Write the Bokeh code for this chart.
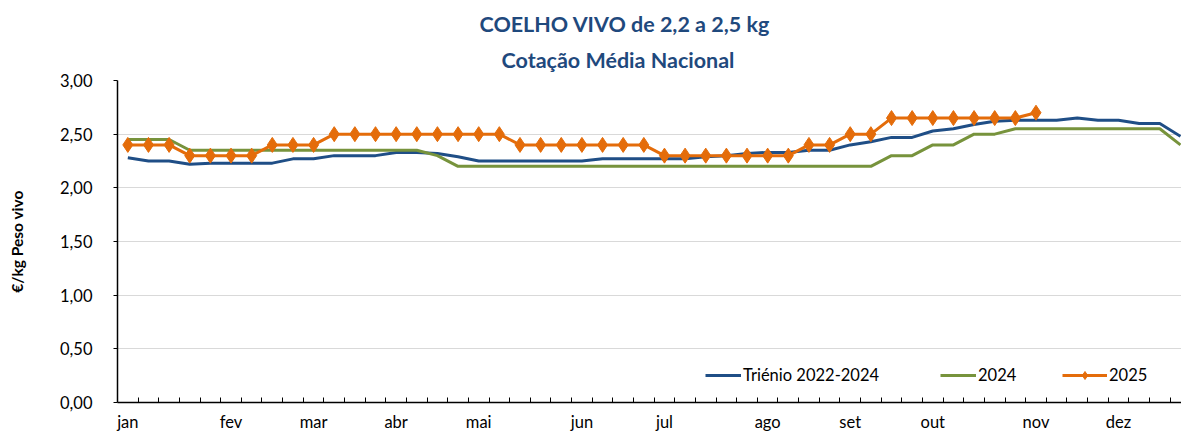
from bokeh.plotting import figure
from bokeh.models import (Range1d, FixedTicker, CustomJSTickFormatter, Title,
                          Legend, LegendItem, ColumnDataSource)
from bokeh.embed import file_html
from bokeh.resources import INLINE

# ---- data (weekly quotes, €/kg live weight) ----
weeks = list(range(52))
trienio = [2.28, 2.25, 2.25, 2.22, 2.23, 2.23, 2.23, 2.23, 2.27, 2.27,
           2.30, 2.30, 2.30, 2.33, 2.33, 2.32, 2.29, 2.25, 2.25, 2.25,
           2.25, 2.25, 2.25, 2.27, 2.27, 2.27, 2.27, 2.27, 2.29, 2.30,
           2.32, 2.33, 2.33, 2.35, 2.35, 2.40, 2.43, 2.47, 2.47, 2.53,
           2.55, 2.59, 2.62, 2.63, 2.63, 2.63, 2.65, 2.63, 2.63, 2.60,
           2.60, 2.48]
y2024 = [2.45, 2.45, 2.45, 2.35, 2.35, 2.35, 2.35, 2.35, 2.35, 2.35,
         2.35, 2.35, 2.35, 2.35, 2.35, 2.30, 2.20, 2.20, 2.20, 2.20,
         2.20, 2.20, 2.20, 2.20, 2.20, 2.20, 2.20, 2.20, 2.20, 2.20,
         2.20, 2.20, 2.20, 2.20, 2.20, 2.20, 2.20, 2.30, 2.30, 2.40,
         2.40, 2.50, 2.50, 2.55, 2.55, 2.55, 2.55, 2.55, 2.55, 2.55,
         2.55, 2.40]
y2025 = [2.40, 2.40, 2.40, 2.30, 2.30, 2.30, 2.30, 2.40, 2.40, 2.40,
         2.50, 2.50, 2.50, 2.50, 2.50, 2.50, 2.50, 2.50, 2.50, 2.40,
         2.40, 2.40, 2.40, 2.40, 2.40, 2.40, 2.30, 2.30, 2.30, 2.30,
         2.30, 2.30, 2.30, 2.40, 2.40, 2.50, 2.50, 2.65, 2.65, 2.65,
         2.65, 2.65, 2.65, 2.65, 2.70]
month_labels = ["jan", "fev", "mar", "abr", "mai", "jun", "jul", "ago",
                "set", "out", "nov", "dez"]
month_weeks = [0, 5, 9, 13, 17, 22, 26, 31, 35, 39, 44, 48]
y_ticks = [0.0, 0.5, 1.0, 1.5, 2.0, 2.5, 3.0]

FONT = "Lato"
BLUE = "#1F4E86"
GREEN = "#77933C"
ORANGE = "#E46C0A"
TITLE_C = "#1F497D"
FS = "16.5px"

p = figure(width=1181, height=434, output_backend="svg", toolbar_location=None,
           x_range=Range1d(-0.5, 51.05), y_range=Range1d(0, 3),
           min_border_left=117, min_border_right=0, min_border_top=80,
           min_border_bottom=31)
p.outline_line_color = None
p.background_fill_color = "white"

# titles (bottom line added first so it sits closest to the frame)
t2 = Title(text="Cotação Média Nacional", align="left", text_font=FONT,
           text_font_size="21.5px", text_font_style="bold", text_color=TITLE_C,
           offset=384, standoff=16)
t1 = Title(text="COELHO VIVO de 2,2 a 2,5 kg", align="left", text_font=FONT,
           text_font_size="21.5px", text_font_style="bold", text_color=TITLE_C,
           offset=362, standoff=0)
p.add_layout(t2, "above")
p.add_layout(t1, "above")

src_t = ColumnDataSource(dict(x=weeks, y=trienio))
src_a = ColumnDataSource(dict(x=weeks, y=y2024))
src_b = ColumnDataSource(dict(x=list(range(len(y2025))), y=y2025))

r_t = p.line("x", "y", source=src_t, line_color=BLUE, line_width=3)
r_a = p.line("x", "y", source=src_a, line_color=GREEN, line_width=3)
r_b = p.line("x", "y", source=src_b, line_color=ORANGE, line_width=3)
r_bm = p.scatter("x", "y", source=src_b, marker="diamond", size=15,
                 fill_color=ORANGE, line_color=ORANGE)

# y axis
p.yaxis.ticker = FixedTicker(ticks=y_ticks)
p.yaxis.formatter = CustomJSTickFormatter(code="return tick.toFixed(2).replace('.', ',');")
p.yaxis.major_tick_in = 0
p.yaxis.major_tick_out = 4
p.yaxis.minor_tick_line_color = None
p.yaxis.axis_line_color = "black"
p.yaxis.axis_line_width = 1.5
p.yaxis.major_tick_line_color = "black"
p.yaxis.major_label_text_font = FONT
p.yaxis.major_label_text_font_size = FS
p.yaxis.major_label_text_color = "black"
p.yaxis.major_label_standoff = 21
p.yaxis.axis_label = "€/kg Peso vivo"
p.yaxis.axis_label_text_font = FONT
p.yaxis.axis_label_text_font_size = "15.5px"
p.yaxis.axis_label_text_font_style = "bold"
p.yaxis.axis_label_text_color = "black"
p.yaxis.axis_label_standoff = 31

# x axis
boundaries = [w + 0.5 for w in weeks]
p.xaxis.ticker = FixedTicker(ticks=month_weeks, minor_ticks=boundaries)
p.xaxis.major_label_overrides = {w: m for w, m in zip(month_weeks, month_labels)}
p.xaxis.major_tick_in = 0
p.xaxis.major_tick_out = 0
p.xaxis.minor_tick_in = 5
p.xaxis.minor_tick_out = 0
p.xaxis.minor_tick_line_color = "black"
p.xaxis.axis_line_color = "black"
p.xaxis.axis_line_width = 1.5
p.xaxis.major_label_text_font = FONT
p.xaxis.major_label_text_font_size = FS
p.xaxis.major_label_text_color = "black"
p.xaxis.major_label_standoff = 9

p.xgrid.grid_line_color = None
p.ygrid.ticker = FixedTicker(ticks=y_ticks)
p.ygrid.grid_line_color = "#D9D9D9"
p.ygrid.grid_line_width = 1


def add_legend(label, renderers, x_left, glyph_w):
    lg = Legend(items=[LegendItem(label=label, renderers=renderers)],
                location=(x_left - 117, 17))
    lg.label_text_font = FONT
    lg.label_text_font_size = FS
    lg.label_text_color = "black"
    lg.glyph_width = glyph_w
    lg.label_standoff = 2
    lg.padding = 0
    lg.margin = 0
    lg.border_line_color = None
    lg.background_fill_alpha = 0
    p.add_layout(lg, "center")


add_legend("Triénio 2022-2024", [r_t], 705, 36)
add_legend("2024", [r_a], 940, 36)
add_legend("2025", [r_b, r_bm], 1062, 45)

open("out.html", "w").write(file_html(p, INLINE))
